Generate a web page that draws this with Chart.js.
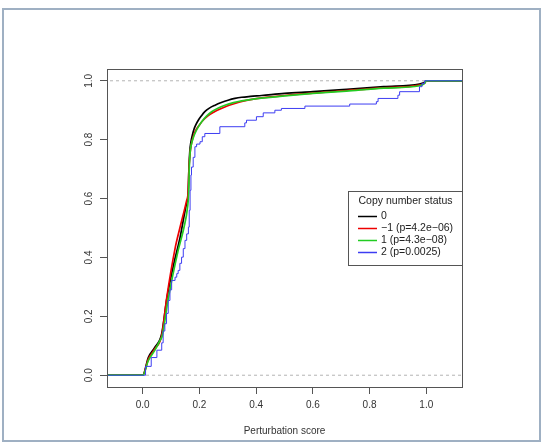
<!doctype html>
<html>
<head>
<meta charset="utf-8">
<title>ECDF of perturbation score by copy number status</title>
<script src="https://cdn.jsdelivr.net/npm/chart.js"></script>
<style>
  html, body { margin: 0; padding: 0; background: #fff; }
  canvas { display: block; }
</style>
</head>
<body>
<canvas id="chart" width="546" height="446"></canvas>
<script>
// ECDF values
const cn0X = [-0.2, 0, 0.02, 0.043, 0.067, 0.085, 0.11, 0.13, 0.155, 0.16, 0.163, 0.166, 0.17, 0.175, 0.181, 0.188, 0.196, 0.207, 0.219, 0.235, 0.255, 0.277, 0.301, 0.325, 0.349, 0.38, 0.419, 0.5, 0.6, 0.72, 0.85, 0.976, 0.995, 1.0, 1.2];
const cn0Y = [0, 0, 0.061, 0.095, 0.141, 0.26, 0.38, 0.46, 0.585, 0.61, 0.7, 0.76, 0.792, 0.815, 0.836, 0.852, 0.866, 0.881, 0.895, 0.907, 0.917, 0.926, 0.934, 0.94, 0.944, 0.947, 0.95, 0.957, 0.963, 0.971, 0.98, 0.989, 0.995, 1, 1];

const cnM1X = [-0.2, 0, 0.02, 0.043, 0.067, 0.085, 0.114, 0.131, 0.155, 0.16, 0.163, 0.166, 0.171, 0.178, 0.186, 0.2, 0.213, 0.23, 0.25, 0.275, 0.3, 0.325, 0.35, 0.385, 0.42, 0.5, 0.6, 0.72, 0.85, 0.976, 0.995, 1.0, 1.2];
const cnM1Y = [0, 0, 0.055, 0.09, 0.135, 0.265, 0.43, 0.5, 0.594, 0.62, 0.7, 0.745, 0.782, 0.81, 0.83, 0.85, 0.866, 0.881, 0.893, 0.905, 0.915, 0.923, 0.93, 0.937, 0.942, 0.95, 0.958, 0.967, 0.976, 0.985, 0.993, 1, 1];

const cn1X = [-0.2, 0, 0.02, 0.043, 0.061, 0.069, 0.09, 0.125, 0.145, 0.158, 0.162, 0.164, 0.167, 0.172, 0.178, 0.184, 0.195, 0.208, 0.225, 0.243, 0.265, 0.29, 0.32, 0.349, 0.385, 0.419, 0.501, 0.6, 0.718, 0.85, 0.976, 0.995, 1.0, 1.2];
const cn1Y = [0, 0, 0.05, 0.085, 0.118, 0.135, 0.26, 0.424, 0.5, 0.57, 0.62, 0.7, 0.755, 0.786, 0.806, 0.821, 0.842, 0.861, 0.88, 0.895, 0.907, 0.917, 0.926, 0.932, 0.937, 0.941, 0.949, 0.957, 0.965, 0.975, 0.983, 0.992, 1, 1];

const cn2X = [-0.2, 0, 0.01, 0.03, 0.05, 0.067, 0.072, 0.078, 0.084, 0.09, 0.096, 0.102, 0.114, 0.12, 0.125, 0.131, 0.137, 0.143, 0.149, 0.155, 0.161, 0.164, 0.167, 0.17, 0.172, 0.178, 0.184, 0.19, 0.202, 0.21, 0.219, 0.272, 0.36, 0.366, 0.401, 0.425, 0.466, 0.489, 0.572, 0.73, 0.824, 0.83, 0.9, 0.906, 0.976, 0.985, 0.994, 1.2];
const cn2Y = [0, 0, 0.03, 0.06, 0.085, 0.11, 0.15, 0.175, 0.21, 0.254, 0.29, 0.322, 0.333, 0.345, 0.356, 0.38, 0.401, 0.43, 0.458, 0.48, 0.503, 0.56, 0.628, 0.68, 0.707, 0.74, 0.776, 0.785, 0.793, 0.81, 0.821, 0.844, 0.857, 0.866, 0.878, 0.891, 0.9, 0.906, 0.914, 0.921, 0.929, 0.94, 0.951, 0.963, 0.98, 0.991, 1, 1];

const legendTitle = 'Copy number status';
const legendLabels = ['0', '\u22121 (p=4.2e\u221206)', '1 (p=4.3e\u221208)', '2 (p=0.0025)'];
const xTicks = [0, 0.2, 0.4, 0.6, 0.8, 1.0];
const yTicks = [0, 0.2, 0.4, 0.6, 0.8, 1.0];
const xTitle = 'Perturbation score';

const toPts = (xs, ys) => xs.map((x, i) => ({ x: x, y: ys[i] }));
const FONT = '"Liberation Sans", Arial, Helvetica, sans-serif';

const lineDs = (label, xs, ys, color, width, order, extra) => Object.assign({
  label: label,
  data: toPts(xs, ys),
  showLine: true,
  borderColor: color,
  backgroundColor: color,
  borderWidth: width,
  pointRadius: 0,
  tension: 0,
  fill: false,
  order: order
}, extra || {});

const smooth = { cubicInterpolationMode: 'monotone' };
const datasets = [
  lineDs(legendLabels[0], cn0X, cn0Y, '#000000', 1.7, 4, smooth),
  lineDs(legendLabels[1], cnM1X, cnM1Y, '#ee0000', 1.7, 3, smooth),
  lineDs(legendLabels[2], cn1X, cn1Y, '#22cc22', 1.7, 2, smooth),
  lineDs(legendLabels[3], cn2X, cn2Y, '#3d3df2', 1, 1, { stepped: 'before' }),
  lineDs('ref0', [-0.2, 1.2], [0, 0], '#b3b3b3', 1, 5, { borderDash: [3, 3] }),
  lineDs('ref1', [-0.2, 1.2], [1, 1], '#b3b3b3', 1, 5, { borderDash: [3, 3] })
];

const framePlugin = {
  id: 'frame',
  beforeDraw(chart) {
    const ctx = chart.ctx;
    ctx.save();
    ctx.fillStyle = '#fff';
    ctx.fillRect(0, 0, chart.width, chart.height);
    ctx.strokeStyle = '#9fb0c3';
    ctx.lineWidth = 2;
    ctx.strokeRect(3, 9, 537, 432);
    ctx.restore();
  },
  afterDraw(chart) {
    const ctx = chart.ctx;
    const a = chart.chartArea;
    const ys = chart.scales.y;
    ctx.save();
    // plot box
    ctx.strokeStyle = '#555';
    ctx.lineWidth = 1;
    ctx.strokeRect(Math.round(a.left) + 0.5, Math.round(a.top) + 0.5,
      Math.round(a.right - a.left), Math.round(a.bottom - a.top));
    // rotated y tick labels
    ctx.fillStyle = '#333';
    ctx.font = '10px ' + FONT;
    ctx.textAlign = 'center';
    ctx.textBaseline = 'middle';
    yTicks.forEach(v => {
      ctx.save();
      ctx.translate(89.5, ys.getPixelForValue(v));
      ctx.rotate(-Math.PI / 2);
      ctx.fillText(v.toFixed(1), 0, 0);
      ctx.restore();
    });
    // legend
    const lx = 348, ly = 191, lw = a.right - 348, lh = 74;
    ctx.fillStyle = '#fff';
    ctx.fillRect(lx, ly, lw, lh);
    ctx.strokeStyle = '#555';
    ctx.strokeRect(lx + 0.5, ly + 0.5, lw, lh);
    ctx.fillStyle = '#222';
    ctx.font = '10.5px ' + FONT;
    ctx.fillText(legendTitle, 405.5, 201);
    ctx.textAlign = 'left';
    legendLabels.forEach((t, i) => {
      const y = 216.5 + i * 12;
      ctx.strokeStyle = chart.data.datasets[i].borderColor;
      ctx.lineWidth = 1.5;
      ctx.beginPath();
      ctx.moveTo(358, y);
      ctx.lineTo(377, y);
      ctx.stroke();
      ctx.fillText(t, 381, y);
    });
    ctx.restore();
  }
};

new Chart(document.getElementById('chart'), {
  type: 'scatter',
  data: { datasets: datasets },
  options: {
    responsive: false,
    animation: false,
    devicePixelRatio: 1,
    layout: { padding: { left: 0, right: 84, top: 69, bottom: 0 } },
    plugins: {
      legend: { display: false },
      tooltip: { enabled: false }
    },
    scales: {
      x: {
        type: 'linear',
        min: -0.126,
        max: 1.126,
        afterBuildTicks: s => { s.ticks = xTicks.map(v => ({ value: v })); },
        afterFit: s => { s.height = 59; },
        grid: { drawOnChartArea: false, drawTicks: true, tickLength: 7, color: '#555' },
        border: { display: true, color: '#555' },
        ticks: {
          padding: 5,
          color: '#333',
          font: { family: FONT, size: 10 },
          maxRotation: 0,
          callback: v => Number(v).toFixed(1)
        },
        title: {
          display: true,
          text: xTitle,
          color: '#333',
          font: { family: FONT, size: 10 },
          padding: { top: 0, bottom: 9 }
        }
      },
      y: {
        type: 'linear',
        min: -0.04,
        max: 1.04,
        afterBuildTicks: s => { s.ticks = yTicks.map(v => ({ value: v })); },
        afterFit: s => { s.width = 107; },
        grid: { drawOnChartArea: false, drawTicks: true, tickLength: 7, color: '#555' },
        border: { display: true, color: '#555' },
        ticks: { color: 'rgba(0,0,0,0)', font: { family: FONT, size: 10 } }
      }
    }
  },
  plugins: [framePlugin]
});
</script>
</body>
</html>
